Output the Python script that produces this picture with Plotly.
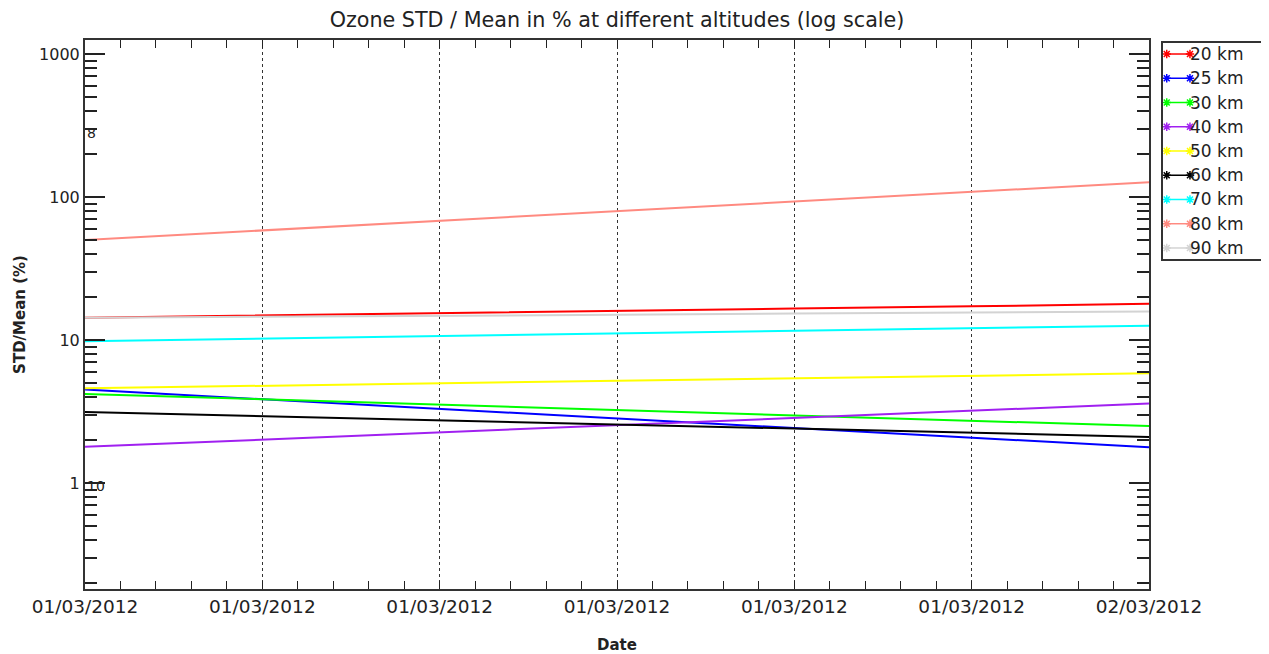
import plotly.graph_objects as go

# hours of 01/03/2012 at which values were read (every 4 h)
times = ["2012-03-01 00:00", "2012-03-01 04:00", "2012-03-01 08:00",
         "2012-03-01 12:00", "2012-03-01 16:00", "2012-03-01 20:00",
         "2012-03-02 00:00"]

labels = ["20 km", "25 km", "30 km", "40 km", "50 km", "60 km", "70 km", "80 km", "90 km"]
colors = ["#ff0000", "#0000ff", "#00ff00", "#a020f0", "#ffff00", "#000000",
          "#00ffff", "#ff8a80", "#d3d3d3"]

km20 = [14.3, 14.8, 15.4, 16.0, 16.6, 17.2, 17.9]
km25 = [4.5, 3.86, 3.30, 2.83, 2.43, 2.08, 1.78]
km30 = [4.2, 3.85, 3.53, 3.24, 2.97, 2.73, 2.5]
km40 = [1.79, 2.01, 2.26, 2.54, 2.85, 3.20, 3.6]
km50 = [4.6, 4.79, 4.98, 5.19, 5.40, 5.62, 5.85]
km60 = [3.14, 2.94, 2.75, 2.57, 2.40, 2.25, 2.10]
km70 = [9.8, 10.2, 10.7, 11.1, 11.6, 12.1, 12.6]
km80 = [50, 58.4, 68.2, 79.7, 93.1, 108.7, 127]
km90 = [14.3, 14.5, 14.8, 15.0, 15.3, 15.5, 15.8]
series = [km20, km25, km30, km40, km50, km60, km70, km80, km90]

ytickvals = [1, 10, 100, 1000]
yticktext = ["1", "10", "100", "1000"]
# log minor ticks 2..9 in every decade
yminor = [m * d for d in (0.1, 1, 10, 100) for m in range(2, 10)]

FONT = "DejaVu Sans"
INK = "#222"
# the page body has an 8px margin, so the figure is drawn 8px smaller
OFF = 8
W, H = 1269 - OFF, 654 - OFF

fig = go.Figure()
for name, col, vals in zip(labels, colors, series):
    fig.add_trace(go.Scatter(x=times, y=vals, mode="lines", name=name,
                             line=dict(color=col, width=2), showlegend=False))

# hand made legend box, IDL style "*-*" symbols
for i, (name, col) in enumerate(zip(labels, colors)):
    fig.add_trace(go.Scatter(x=[0.037, 0.267], y=[i, i], mode="lines+markers",
                             xaxis="x2", yaxis="y2", showlegend=False,
                             line=dict(color=col, width=1.5),
                             marker=dict(symbol="asterisk-open", size=7,
                                         color=col, line=dict(color=col, width=1.5))))
    fig.add_annotation(x=0.25, y=i, xref="x2", yref="y2", text=name, showarrow=False,
                       xanchor="left", font=dict(family=FONT, size=17, color=INK))

# stray labels drawn inside the frame in the original
fig.add_annotation(x=0.0, y=2.45, xref="paper", yref="y", text="8", showarrow=False,
                   xanchor="left", font=dict(family=FONT, size=14, color=INK))
fig.add_annotation(x=0.0, y=-0.02, xref="paper", yref="y", text="10", showarrow=False,
                   xanchor="left", font=dict(family=FONT, size=14, color=INK))

fig.update_layout(
    width=W, height=H,
    margin=dict(l=85 - OFF, r=0, t=40 - OFF, b=65),
    paper_bgcolor="white", plot_bgcolor="white",
    font=dict(family=FONT, size=15, color=INK),
    title=dict(text="Ozone STD / Mean in % at different altitudes (log scale)",
               x=(617 - OFF) / W, xanchor="center", y=1 - (20 - OFF) / H, yanchor="middle",
               font=dict(family=FONT, size=20.7, color=INK)),
    xaxis=dict(
        type="date", domain=[0, 1064 / 1184], automargin=False,
        range=["2012-03-01 00:00", "2012-03-02 00:00"],
        tick0="2012-03-01 00:00", dtick=4 * 3600 * 1000, tickformat="%d/%m/%Y",
        tickfont=dict(size=18.5),
        ticks="inside", ticklen=8, tickcolor=INK,
        showline=True, linecolor="#333", linewidth=2, mirror="ticks",
        showgrid=True, gridcolor="#333", griddash="dot", gridwidth=1.2,
        minor=dict(dtick=48 * 60 * 1000, ticks="inside", ticklen=8, tickcolor=INK),
        title=dict(text="<b>Date</b>", standoff=24, font=dict(size=15)),
        zeroline=False,
    ),
    yaxis=dict(
        type="log", range=[-0.741, 3.098], automargin=False,
        tickvals=ytickvals, ticktext=yticktext, tickfont=dict(size=16),
        ticks="inside", ticklen=20, tickcolor=INK, tickwidth=1.5,
        showline=True, linecolor="#333", linewidth=2, mirror="ticks",
        showgrid=False,
        minor=dict(tickvals=yminor, ticks="inside", ticklen=12, tickcolor=INK,
                   tickwidth=1.5),
        title=dict(text="<b>STD/Mean (%)</b>", standoff=10, font=dict(size=15)),
        zeroline=False,
    ),
    xaxis2=dict(domain=[(1163 - 85) / 1184, (1264 - 85) / 1184], range=[0, 1],
                anchor="y2", showline=True, mirror=True, linecolor="#333", linewidth=1.5,
                showticklabels=False, ticks="", showgrid=False, zeroline=False,
                fixedrange=True, automargin=False),
    yaxis2=dict(domain=[1 - (259 - 40) / 549, 1 - (43 - 40) / 549], range=[8.455, -0.454],
                anchor="x2", showline=True, mirror=True, linecolor="#333", linewidth=1.5,
                showticklabels=False, ticks="", showgrid=False, zeroline=False,
                fixedrange=True, automargin=False),
)

fig.write_html("out.html")
